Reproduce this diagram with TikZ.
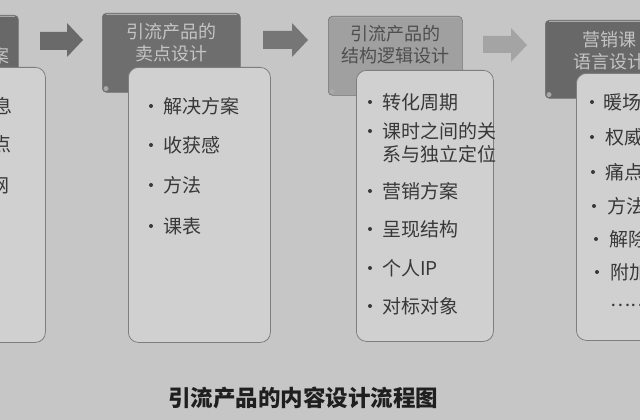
\documentclass[tikz,border=0pt]{standalone}
\usepackage{fontspec}
\setmainfont{Noto Sans CJK SC}
\definecolor{bg}{HTML}{C6C6C6}
\definecolor{boxfill}{HTML}{D0D0D0}
\definecolor{boxline}{HTML}{7E7E7E}
\definecolor{hdrdark}{HTML}{6E6E6E}
\definecolor{hdrmid}{HTML}{A0A0A0}
\definecolor{hdrdarkb}{HTML}{686868}
\definecolor{htlight}{HTML}{C4C4C4}
\definecolor{htdark}{HTML}{4E4E4E}
\definecolor{txtcol}{HTML}{383838}
\definecolor{arrdark}{HTML}{6A6A6A}
\definecolor{arrmid}{HTML}{767676}
\definecolor{arrlight}{HTML}{A4A4A4}
\definecolor{hilite}{HTML}{A8A8A8}
\newcommand\bitem[5]{%
  \fill[txtcol] (#1,#3) circle (2pt);
  \node[itemtxt] (#4) at (#2,#3) {#5};}
\begin{document}
\begin{tikzpicture}[x=1pt,y=-1pt,
  hdr/.style={rectangle, rounded corners=4pt, inner sep=0pt, anchor=north west,
    draw=black!55, line width=0.6pt},
  cbox/.style={rectangle, rounded corners=10pt, fill=boxfill, draw=boxline,
    line width=0.8pt, anchor=north west, inner sep=0pt},
  itemtxt/.style={anchor=west, inner sep=0pt, text=txtcol,
    font=\fontsize{19}{23}\selectfont, align=left},
  htxt/.style={inner sep=0pt, align=center, font=\fontsize{18}{22}\selectfont},
  captxt/.style={inner sep=0pt, text=black!88, font=\fontsize{22.5}{26}\selectfont\bfseries}]
\useasboundingbox (0,0) rectangle (640,420);
\clip (0,0) rectangle (640,420);
\fill[bg] (0,0) rectangle (640,420);

% headers
\node[hdr, fill=hdrdarkb, minimum width=48pt, minimum height=80pt] (h1) at (-30,15) {};
\node[hdr, fill=hdrdark, minimum width=138pt, minimum height=79pt] (h2) at (102,13) {};
\node[hdr, fill=hdrmid, minimum width=134pt, minimum height=79pt] (h3) at (328,16) {};
\node[hdr, fill=hdrdarkb, minimum width=135pt, minimum height=78pt] (h4) at (545,20) {};
\foreach \h in {h1,h2,h3,h4}{
  \draw[hilite, line width=1pt] ([xshift=4pt,yshift=-1.6pt]\h.north west) -- ([xshift=-4pt,yshift=-1.6pt]\h.north east);
  \fill[hilite] ([xshift=4pt,yshift=4pt]\h.south west) circle (2.5pt);
}
\node[htxt, text=htlight, anchor=east] (t1) at (10,56) {案};
\node[htxt, text=htlight] (t2) at (171,43) {引流产品的\\卖点设计};
\node[htxt, text=htdark] (t3) at (395,45) {引流产品的\\结构逻辑设计};
\node[htxt, text=htlight] (t4) at (609,51) {营销课\\语言设计};

% content boxes
\node[cbox, minimum width=155pt, minimum height=275pt] (b1) at (-110,67) {};
\node[cbox, minimum width=142pt, minimum height=275pt] (b2) at (128,67) {};
\node[cbox, minimum width=137pt, minimum height=271pt] (b3) at (356,70) {};
\node[cbox, minimum width=140pt, minimum height=267pt] (b4) at (576,73) {};

% arrows
\fill[arrdark] (40,32) -- (67,32) -- (67,23) -- (83,40) -- (67,57) -- (67,50) -- (40,50) -- cycle;
\fill[arrmid] (263,31) -- (292,31) -- (292,23) -- (308,40) -- (292,57) -- (292,49) -- (263,49) -- cycle;
\fill[arrlight] (483,36) -- (511,36) -- (511,28) -- (527,45) -- (511,62) -- (511,53) -- (483,53) -- cycle;

% column 1 (cut off)
\node[itemtxt, anchor=east] (c1a) at (13,106) {息};
\node[itemtxt, anchor=east] (c1b) at (12,144) {点};
\node[itemtxt, anchor=east] (c1c) at (10,186) {网};

% column 2
\bitem{151}{163}{106}{c2a}{解决方案}
\bitem{151}{163}{145}{c2b}{收获感}
\bitem{151}{163}{185}{c2c}{方法}
\bitem{151}{163}{226}{c2d}{课表}

% column 3
\bitem{370}{382}{102}{c3a}{转化周期}
\fill[txtcol] (370,131) circle (2pt);
\node[itemtxt] (c3b) at (382,142.5) {课时之间的关\\系与独立定位};
\bitem{370}{382}{191}{c3c}{营销方案}
\bitem{370}{382}{229}{c3d}{呈现结构}
\bitem{370}{382}{268}{c3e}{个人IP}
\bitem{370}{382}{306}{c3f}{对标对象}

% column 4
\bitem{592}{603}{102}{c4a}{暖场}
\bitem{592}{605}{137}{c4b}{权威}
\bitem{593}{605}{172}{c4c}{痛点}
\bitem{594}{607}{206}{c4d}{方法}
\bitem{596}{609}{239}{c4e}{解除}
\bitem{597}{610}{272}{c4f}{附加}
\node[itemtxt] (c4g) at (610,305) {……};

% caption
\node[captxt] (cap) at (303,398) {引流产品的内容设计流程图};
\end{tikzpicture}
\end{document}
